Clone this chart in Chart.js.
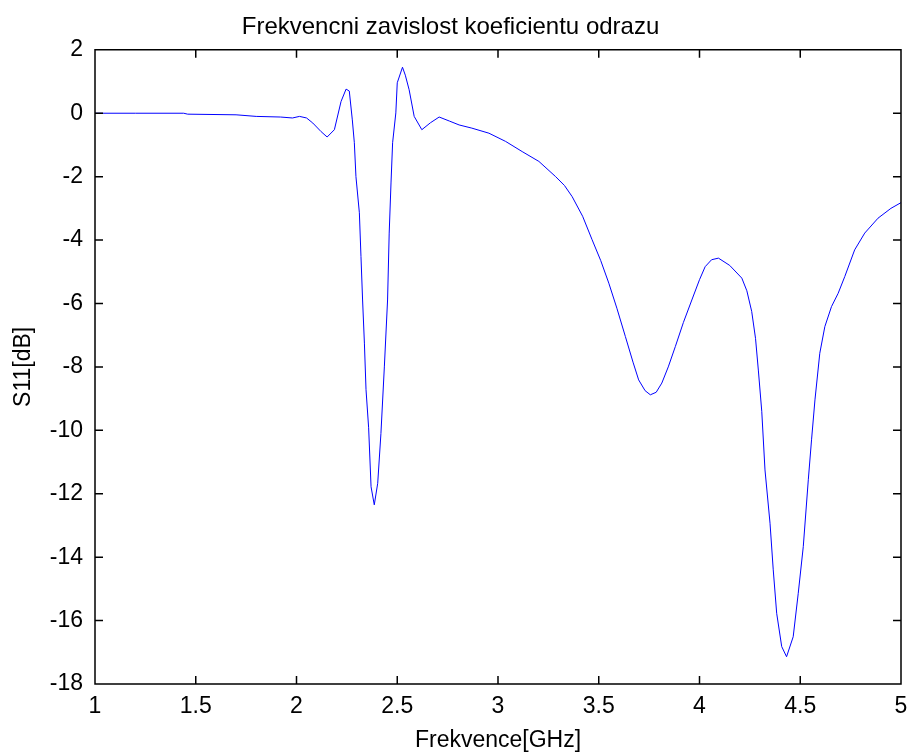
<!DOCTYPE html>
<html lang="en">
<head>
    <meta charset="UTF-8">
    <title>Frekvencni zavislost koeficientu odrazu</title>
    <script src="https://cdn.jsdelivr.net/npm/chart.js"></script>
    <style>
        html, body {
            margin: 0;
            padding: 0;
            background-color: #fff;
        }
        #chartContainer {
            width: 911px;
            height: 754px;
        }
    </style>
</head>
<body>
    <div id="chartContainer">
        <canvas id="myChart" width="911" height="754"></canvas>
    </div>

    <script>
        // frequency [GHz] and reflection coefficient S11 [dB]
        var freq = [
            1.00, 1.20, 1.44, 1.46, 1.70, 1.80, 1.92, 1.98, 2.015, 2.05,
            2.081, 2.122, 2.152, 2.188, 2.221, 2.246, 2.262, 2.277, 2.287, 2.295,
            2.312, 2.32, 2.328, 2.337, 2.345, 2.358, 2.370, 2.386, 2.403, 2.419,
            2.436, 2.452, 2.46, 2.469, 2.477, 2.493, 2.50, 2.526, 2.540, 2.559,
            2.584, 2.622, 2.665, 2.708, 2.76, 2.807, 2.87, 2.955, 3.038, 3.12,
            3.203, 3.286, 3.33, 3.368, 3.42, 3.467, 3.51, 3.55, 3.59, 3.632,
            3.67, 3.698, 3.73, 3.756, 3.785, 3.813, 3.845, 3.88, 3.92, 3.962,
            4.0, 4.028, 4.06, 4.094, 4.15, 4.21, 4.235, 4.259, 4.278, 4.292,
            4.309, 4.325, 4.35, 4.366, 4.383, 4.408, 4.432, 4.465, 4.49, 4.515,
            4.54, 4.556, 4.573, 4.597, 4.622, 4.655, 4.688, 4.721, 4.77, 4.82,
            4.886, 4.95, 5.0
        ];
        var s11 = [
            0, 0, 0, -0.03, -0.05, -0.1, -0.12, -0.15, -0.1, -0.15,
            -0.31, -0.58, -0.75, -0.52, 0.37, 0.76, 0.7, -0.21, -0.93, -2.0,
            -3.14, -4.52, -5.89, -7.25, -8.72, -9.92, -11.78, -12.35, -11.67, -10.1,
            -8.0, -5.89, -3.78, -2.2, -0.93, 0.01, 0.96, 1.45, 1.2, 0.74,
            -0.1, -0.52, -0.3, -0.12, -0.25, -0.37, -0.47, -0.63, -0.89, -1.21,
            -1.52, -2.0, -2.28, -2.63, -3.25, -3.99, -4.65, -5.36, -6.15, -7.04,
            -7.85, -8.41, -8.75, -8.88, -8.8, -8.51, -8.0, -7.36, -6.6, -5.89,
            -5.25, -4.84, -4.62, -4.57, -4.8, -5.2, -5.6, -6.25, -7.1, -8.1,
            -9.4, -11.25, -12.93, -14.4, -15.77, -16.82, -17.14, -16.51, -15.14, -13.67,
            -11.56, -10.3, -9.04, -7.57, -6.73, -6.1, -5.68, -5.15, -4.31, -3.78,
            -3.31, -3.0, -2.82
        ];
        var xTicks = [1, 1.5, 2, 2.5, 3, 3.5, 4, 4.5, 5];
        var yTicks = [2, 0, -2, -4, -6, -8, -10, -12, -14, -16, -18];

        var points = freq.map(function (f, i) { return { x: f, y: s11[i] }; });

        // MATLAB style box with inward ticks on all four sides
        var boxPlugin = {
            id: 'matlabBox',
            afterDraw: function (chart) {
                var c = chart.ctx;
                var a = chart.chartArea;
                var len = 8;
                c.save();
                c.strokeStyle = '#000000';
                c.lineWidth = 1.5;
                c.beginPath();
                c.rect(a.left, a.top, a.right - a.left, a.bottom - a.top);
                xTicks.forEach(function (v) {
                    var px = chart.scales.x.getPixelForValue(v);
                    c.moveTo(px, a.bottom); c.lineTo(px, a.bottom - len);
                    c.moveTo(px, a.top); c.lineTo(px, a.top + len);
                });
                yTicks.forEach(function (v) {
                    var py = chart.scales.y.getPixelForValue(v);
                    c.moveTo(a.left, py); c.lineTo(a.left + len, py);
                    c.moveTo(a.right, py); c.lineTo(a.right - len, py);
                });
                c.stroke();
                c.restore();
            }
        };

        var font = 'Arial, "Liberation Sans", sans-serif';
        var ctx = document.getElementById('myChart').getContext('2d');
        var myChart = new Chart(ctx, {
            type: 'line',
            data: {
                datasets: [{
                    data: points,
                    borderColor: '#0000ff',
                    borderWidth: 1,
                    pointRadius: 0,
                    tension: 0,
                    fill: false
                }]
            },
            options: {
                responsive: false,
                animation: false,
                layout: { padding: { left: 0, right: 10, top: 0, bottom: 0 } },
                plugins: {
                    legend: { display: false },
                    tooltip: { enabled: false },
                    title: {
                        display: true,
                        text: 'Frekvencni zavislost koeficientu odrazu',
                        color: '#000',
                        font: { family: font, size: 24, weight: 'normal' },
                        padding: { top: 13, bottom: 8 }
                    }
                },
                scales: {
                    x: {
                        type: 'linear',
                        min: 1,
                        max: 5,
                        afterFit: function (s) {
                            s.height = 70;
                            s.paddingLeft = 0;
                            s.paddingRight = 0;
                        },
                        afterBuildTicks: function (s) {
                            s.ticks = xTicks.map(function (v) { return { value: v }; });
                        },
                        grid: { display: false, drawTicks: false },
                        border: { display: false },
                        ticks: {
                            color: '#000',
                            padding: 9,
                            maxRotation: 0,
                            autoSkip: false,
                            font: { family: font, size: 23 },
                            callback: function (v) { return String(v); }
                        },
                        title: {
                            display: true,
                            text: 'Frekvence[GHz]',
                            color: '#000',
                            font: { family: font, size: 23 },
                            padding: { top: 0, bottom: 0 }
                        }
                    },
                    y: {
                        type: 'linear',
                        min: -18,
                        max: 2,
                        afterFit: function (s) {
                            s.width = 95;
                            s.paddingTop = 0;
                            s.paddingBottom = 0;
                        },
                        afterBuildTicks: function (s) {
                            s.ticks = yTicks.map(function (v) { return { value: v }; });
                        },
                        grid: { display: false, drawTicks: false },
                        border: { display: false },
                        ticks: {
                            color: '#000',
                            padding: 12,
                            autoSkip: false,
                            font: { family: font, size: 23 },
                            callback: function (v) { return String(v); }
                        },
                        title: {
                            display: true,
                            text: 'S11[dB]',
                            color: '#000',
                            font: { family: font, size: 23 },
                            padding: { top: 10, bottom: 0 }
                        }
                    }
                }
            },
            plugins: [boxPlugin]
        });
    </script>
</body>
</html>
